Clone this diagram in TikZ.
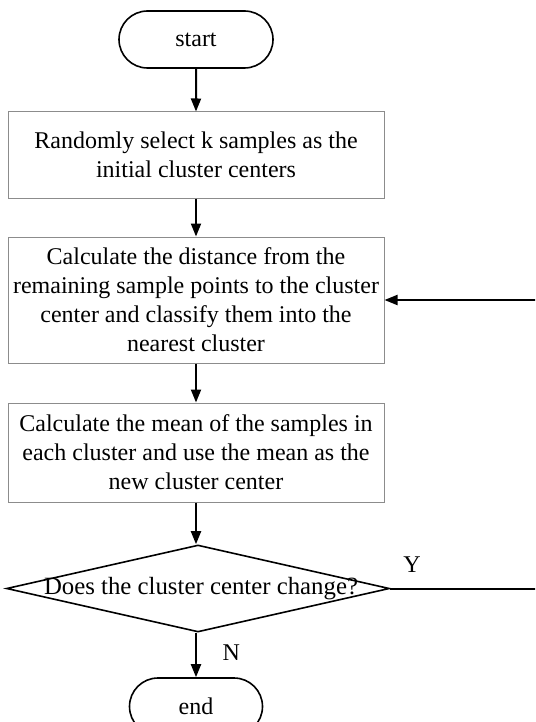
\documentclass[tikz,border=0pt]{standalone}
\usepackage{fontspec}
\setmainfont{Liberation Serif}
\usetikzlibrary{positioning, arrows.meta, shapes.geometric, shapes.misc}

\begin{document}
\begin{tikzpicture}[x=0.5pt, y=-0.5pt, font=\fontsize{12pt}{14.5pt}\selectfont,
    terminal/.style={rounded rectangle, draw, line width=0.8pt, minimum height=28.5pt, inner sep=0pt},
    process/.style={rectangle, draw=black!45, line width=0.5pt, minimum width=188pt, align=center, inner sep=0pt},
    decision/.style={diamond, draw, line width=0.8pt, minimum width=191.5pt, minimum height=43.5pt, inner sep=0pt},
    flow/.style={-{Triangle[length=6.5pt, width=5pt]}, line width=1pt},
]
\useasboundingbox (0,0) rectangle (535,722);
\clip (0,0) rectangle (535,722);
\node[terminal, minimum width=77pt] (start) at (196,39.5) {start};
\node[process, minimum height=43pt] (init) at (196,155) {Randomly select k samples as the\\initial cluster centers};
\node[process, minimum height=63pt] (dist) at (196,300) {Calculate the distance from the\\remaining sample points to the cluster\\center and classify them into the\\nearest cluster};
\node[process, minimum height=49.5pt] (mean) at (196,452.5) {Calculate the mean of the samples in\\each cluster and use the mean as the\\new cluster center};
\node[decision] (dec) at (198,588.5) {};
\node[font=\fontsize{12.4pt}{14.5pt}\selectfont] (ask) at (201,588.5) {Does the cluster center change?};
\node[terminal, minimum width=66.5pt] (stop) at (196,706.5) {end};
\coordinate (loop) at (548,588.5);
\draw[flow] (start) -- (init);
\draw[flow] (init) -- (dist);
\draw[flow] (dist) -- (mean);
\draw[flow] (mean.south) -- (mean.south |- dec.north);
\draw[flow] (stop.north |- dec.south) -- node[right=9.5pt, pos=0.45] (no) {N} (stop.north);
\draw[flow] (dec.east) -- (loop) |- (dist.east);
\node (yes) at (412,565) {Y};
\end{tikzpicture}
\end{document}
